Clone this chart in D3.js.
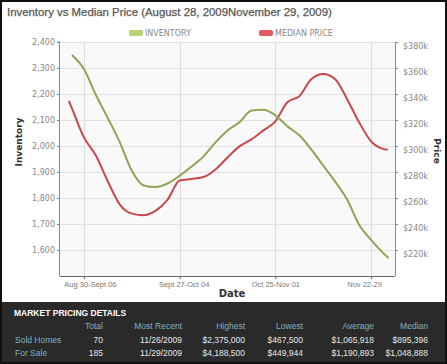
<!DOCTYPE html>
<html><head><meta charset="utf-8">
<script src="https://cdn.jsdelivr.net/npm/d3@7"></script>
<style>
html,body{margin:0;padding:0;background:#fff;}
svg{display:block;}
</style></head>
<body>
<script>
// ---- data ----
const title = "Inventory vs Median Price (August 28, 2009November 29, 2009)";
const weekLabels = ["Aug 30-Sept 06", "Sept 27-Oct 04", "Oct 25-Nov 01", "Nov 22-29"];
const weekLabelIndex = [0, 4, 8, 12];
const inventoryTicks = [1600, 1700, 1800, 1900, 2000, 2100, 2200, 2300, 2400];
const priceTicks = [220, 240, 260, 280, 300, 320, 340, 360, 380];
// positions in weeks from "Aug 30-Sept 06"
const inventoryWeek = [-0.5, 0, 0.5, 1, 1.5, 2, 2.5, 3, 3.5, 4, 4.5, 5, 5.5, 6, 6.5, 7, 7.5, 8, 8.5, 9, 9.5, 10, 10.5, 11, 11.5, 12, 12.5, 12.73];
const inventory = [2350, 2296, 2196, 2107, 2014, 1905, 1848, 1842, 1856, 1886, 1921, 1960, 2014, 2060, 2091, 2137, 2139, 2118, 2076, 2041, 1987, 1925, 1863, 1794, 1697, 1639, 1589, 1569];
const priceWeek = [-0.63, -0.5, 0, 0.5, 1, 1.5, 2, 2.5, 3, 3.5, 4, 4.5, 5, 5.5, 6, 6.5, 7, 7.5, 8, 8.5, 9, 9.5, 10, 10.5, 11, 11.5, 12, 12.5, 12.7];
const medianPrice = [334.8, 329, 306.6, 292.7, 272.7, 254.9, 248, 246.8, 250.3, 258.8, 273.4, 274.6, 276.1, 282, 291.2, 299.7, 305.1, 312, 319, 333.7, 338.3, 351.4, 355.3, 351.4, 336, 318.2, 303.6, 297.8, 297.1];
const tableHeaders = ["Total", "Most Recent", "Highest", "Lowest", "Average", "Median"];
const rowNames = ["Sold Homes", "For Sale"];
const soldHomes = ["70", "11/26/2009", "$2,375,000", "$467,500", "$1,065,918", "$895,396"];
const forSale = ["185", "11/29/2009", "$4,188,500", "$449,944", "$1,190,893", "$1,048,888"];
const seriesNames = ["INVENTORY", "MEDIAN PRICE"];

// ---- layout ----
const W = 447, H = 364;
const L = 60, R = 395, T = 42, B = 276;
const svg = d3.select("body").append("svg").attr("width", W).attr("height", H);

svg.append("rect").attr("x", 0).attr("y", 0).attr("width", W).attr("height", H).attr("fill", "#fff");

const x = d3.scaleLinear().domain([-1, 13]).range([L, R]);
const yL = d3.scaleLinear().domain([1500, 2400]).range([B, T]);
const yR = d3.scaleLinear().domain([200, 380]).range([B, T]);

// title
svg.append("text").attr("x", 7).attr("y", 16).text(title)
  .attr("font-family", "Arial, 'Liberation Sans', sans-serif").attr("font-size", 11.4)
  .attr("fill", "#555").attr("stroke", "#555").attr("stroke-width", 0.25);

// plot background
svg.append("rect").attr("x", L).attr("y", T).attr("width", R - L).attr("height", B - T).attr("fill", "#f9f9f9");

// gridlines
svg.append("g").selectAll("line").data(inventoryTicks).join("line")
  .attr("x1", L).attr("x2", R).attr("y1", d => yL(d) + 0.5).attr("y2", d => yL(d) + 0.5)
  .attr("stroke", "#e2e2e2").attr("stroke-width", 1);
svg.append("g").selectAll("line").data(weekLabelIndex).join("line")
  .attr("x1", d => Math.round(x(d)) + 0.5).attr("x2", d => Math.round(x(d)) + 0.5).attr("y1", T).attr("y2", B)
  .attr("stroke", "#dcdcdc").attr("stroke-width", 1);

const tickFont = "Verdana, 'DejaVu Sans', sans-serif";
// left axis
const gL = svg.append("g").attr("transform", `translate(${L},0)`)
  .call(d3.axisLeft(yL).tickValues(inventoryTicks).tickSize(3).tickFormat(d3.format(",")));
gL.select(".domain").attr("stroke", "#888").attr("d", `M-0.5,${T}V${B}`);
gL.selectAll(".tick line").attr("stroke", "#888");
gL.selectAll("text").attr("font-family", tickFont).attr("font-size", 8).attr("fill", "#888").attr("x", -5);
gL.append("line").attr("x1", -3).attr("x2", 0).attr("y1", yL(2400)).attr("y2", yL(2400)).attr("stroke", "#888");

// right axis
const gR = svg.append("g").attr("transform", `translate(${R},0)`)
  .call(d3.axisRight(yR).tickValues(priceTicks).tickSize(3).tickFormat(d => "$" + d + "k"));
gR.select(".domain").attr("stroke", "#888").attr("d", `M0.5,${T}V${B}`);
gR.selectAll(".tick line").attr("stroke", "#888");
gR.selectAll("text").attr("font-family", tickFont).attr("font-size", 8).attr("fill", "#888").attr("x", 8).attr("dy", "0.75em");

// bottom axis
const labelShift = [6, 4, 0, -7];
const gB = svg.append("g").attr("transform", `translate(0,${B})`)
  .call(d3.axisBottom(x).tickValues(weekLabelIndex).tickSize(3).tickFormat((d, i) => weekLabels[i]));
gB.select(".domain").attr("stroke", "#666").attr("d", `M${L},0.5H${R}`);
gB.selectAll(".tick line").attr("stroke", "#666");
gB.selectAll("text").attr("font-family", "Arial, 'Liberation Sans', sans-serif").attr("font-size", 7.5).attr("fill", "#777").attr("y", 6)
  .attr("dx", (d, i) => labelShift[i]);

// axis titles
const titleFont = "Verdana, 'DejaVu Sans', sans-serif";
svg.append("text").attr("transform", "translate(22,142) rotate(-90)").attr("text-anchor", "middle")
  .attr("font-family", titleFont).attr("font-weight", "bold").attr("font-size", 9).attr("fill", "#333").text("Inventory");
svg.append("text").attr("transform", "translate(434,151) rotate(90)").attr("text-anchor", "middle")
  .attr("font-family", titleFont).attr("font-weight", "bold").attr("font-size", 9).attr("fill", "#333").text("Price");
svg.append("text").attr("x", 232).attr("y", 297).attr("text-anchor", "middle")
  .attr("font-family", titleFont).attr("font-weight", "bold").attr("font-size", 10).attr("fill", "#333").text("Date");

// lines
const lineInv = d3.line().x((d, i) => x(inventoryWeek[i])).y(d => yL(d)).curve(d3.curveMonotoneX);
const linePrice = d3.line().x((d, i) => x(priceWeek[i])).y(d => yR(d)).curve(d3.curveMonotoneX);
svg.append("path").attr("d", linePrice(medianPrice)).attr("fill", "none").attr("stroke", "#c8484c").attr("stroke-width", 2);
svg.append("path").attr("d", lineInv(inventory)).attr("fill", "none").attr("stroke", "#8ea553").attr("stroke-width", 2);

// legend
const legendX = [129, 259];
const legendColors = ["#b9d46e", "#e05a60"];
const lg = svg.append("g").selectAll("g").data(seriesNames).join("g")
  .attr("transform", (d, i) => `translate(${legendX[i]},33)`);
lg.append("rect").attr("x", 0).attr("y", -3).attr("width", 14).attr("height", 6).attr("rx", 2)
  .attr("fill", (d, i) => legendColors[i]);
lg.append("text").attr("x", 16).attr("y", 3).text(d => d)
  .attr("font-family", tickFont).attr("font-size", 8).attr("fill", "#888");

// table panel
const PT = 302;
svg.append("rect").attr("x", 0).attr("y", PT).attr("width", W).attr("height", H - PT).attr("fill", "#2a2a2a");
svg.append("text").attr("x", 14).attr("y", 316).text("MARKET PRICING DETAILS")
  .attr("font-family", "Arial, 'Liberation Sans', sans-serif").attr("font-weight", "bold").attr("font-size", 8.5).attr("fill", "#fff");
const colRight = [103, 182, 245, 303, 374, 428];
const tfont = "Arial, 'Liberation Sans', sans-serif";
svg.append("g").selectAll("text").data(tableHeaders).join("text")
  .attr("x", (d, i) => colRight[i]).attr("y", 329).attr("text-anchor", "end").text(d => d)
  .attr("font-family", tfont).attr("font-size", 8.5).attr("fill", "#7fb2c2");
const rows = [soldHomes, forSale];
const rowY = [343, 356];
rows.forEach((r, ri) => {
  svg.append("text").attr("x", 15).attr("y", rowY[ri]).text(rowNames[ri])
    .attr("font-family", tfont).attr("font-size", 8.5).attr("fill", "#7fb2c2");
  svg.append("g").selectAll("text").data(r).join("text")
    .attr("x", (d, i) => colRight[i]).attr("y", rowY[ri]).attr("text-anchor", "end").text(d => d)
    .attr("font-family", tfont).attr("font-size", 8.5).attr("fill", "#e6e6e6");
});

// outer border
svg.append("rect").attr("x", 1).attr("y", 1).attr("width", W - 2).attr("height", H - 2)
  .attr("fill", "none").attr("stroke", "#111").attr("stroke-width", 2);
</script>
</body></html>
